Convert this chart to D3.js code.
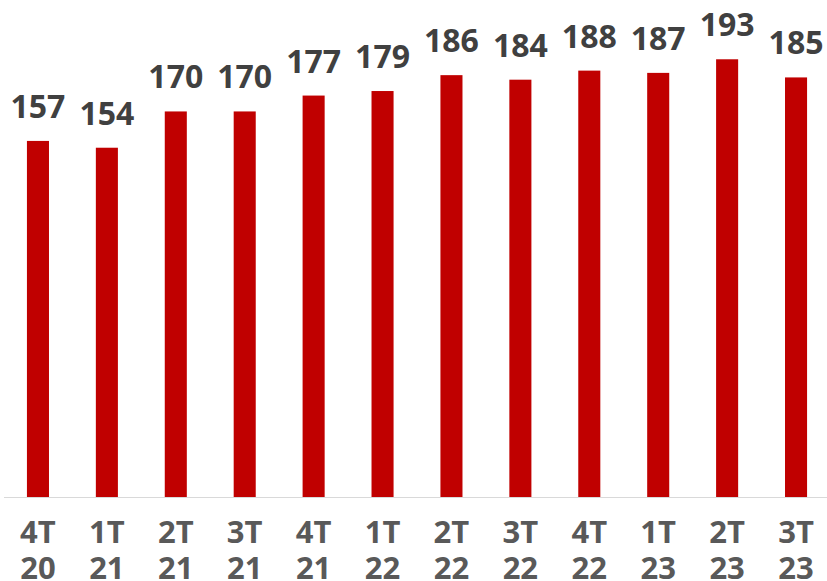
<!DOCTYPE html>
<html>
<head>
<meta charset="utf-8">
<script src="https://cdn.jsdelivr.net/npm/d3@7"></script>
<style>
  body { margin: 0; background: #fff; }
</style>
</head>
<body>
<div id="canvas"></div>
<script>
var width = 827;
var height = 581;

// quarters and values
var quarters = ["4T", "1T", "2T", "3T", "4T", "1T", "2T", "3T", "4T", "1T", "2T", "3T"];
var years = ["20", "21", "21", "21", "21", "22", "22", "22", "22", "23", "23", "23"];
var values = [157, 154, 170, 170, 177, 179, 186, 184, 188, 187, 193, 185];

var baseY = 497;

var svg = d3.select("#canvas").append("svg")
      .attr("width", width)
      .attr("height", height);

var x = d3.scaleBand()
    .domain(d3.range(values.length))
    .range([3.5, 830.5])
    .paddingInner(0.68)
    .paddingOuter(0.34);

var y = d3.scaleLinear()
    .domain([0, 220])
    .range([baseY, baseY - 220 * 2.268]);

// bars
svg.selectAll("rect.bar")
    .data(values)
    .enter().append("rect")
    .attr("class", "bar")
    .attr("x", (d, i) => x(i))
    .attr("width", x.bandwidth())
    .attr("y", d => y(d))
    .attr("height", d => y(0) - y(d))
    .attr("fill", "#c00000");

// baseline
svg.append("line")
    .attr("x1", 4)
    .attr("x2", width)
    .attr("y1", baseY + 0.5)
    .attr("y2", baseY + 0.5)
    .attr("stroke", "#d9d9d9")
    .attr("stroke-width", 1.2);

// value labels
svg.selectAll("text.val")
    .data(values)
    .enter().append("text")
    .attr("class", "val")
    .attr("x", (d, i) => x(i) + x.bandwidth() / 2)
    .attr("y", d => y(d) - 23)
    .attr("text-anchor", "middle")
    .attr("font-family", "Open Sans")
    .attr("font-weight", 700)
    .attr("font-size", 32)
    .attr("fill", "#404040")
    .text(d => d);

// category labels, two lines
var cat = svg.selectAll("text.cat")
    .data(quarters)
    .enter().append("text")
    .attr("class", "cat")
    .attr("text-anchor", "middle")
    .attr("font-family", "Open Sans")
    .attr("font-weight", 700)
    .attr("font-size", 31)
    .attr("fill", "#595959");

cat.append("tspan")
    .attr("x", (d, i) => x(i) + x.bandwidth() / 2)
    .attr("y", 543)
    .text(d => d);

cat.append("tspan")
    .attr("x", (d, i) => x(i) + x.bandwidth() / 2)
    .attr("y", 579)
    .text((d, i) => years[i]);
</script>
</body>
</html>
